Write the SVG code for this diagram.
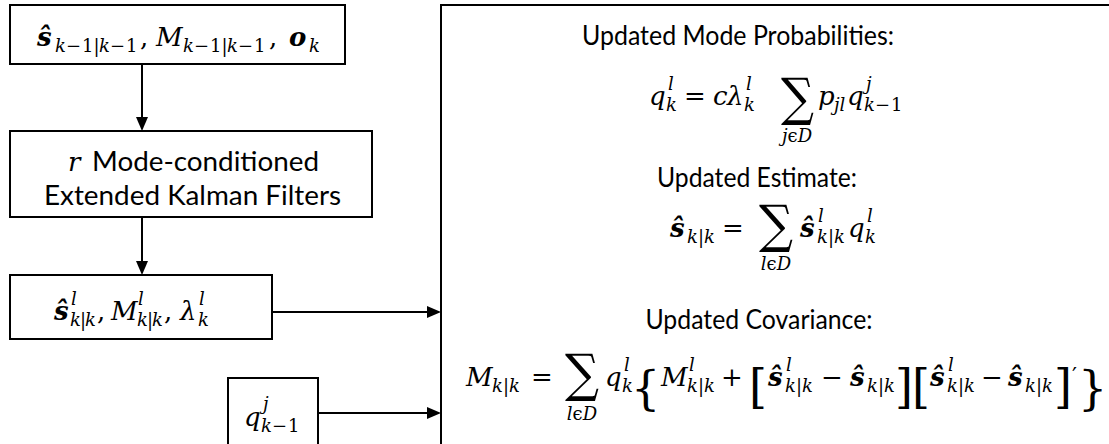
<svg xmlns="http://www.w3.org/2000/svg" width="1109" height="444" viewBox="0 0 1109 444">
<style>
.box{fill:#fff;stroke:#000;stroke-width:2}
.cn{stroke:#000;stroke-width:2;fill:none}
.t{font-family:"Lato","Open Sans","Liberation Sans",sans-serif;font-size:26px;fill:#000}
.m{font-family:"DejaVu Serif","Liberation Serif",serif;font-style:italic;font-size:26px;fill:#000}
.b{font-weight:bold}
.s{font-size:18px}
.u{font-style:normal}
.lim{font-family:"DejaVu Serif","Liberation Serif",serif;font-style:italic;font-size:18px;fill:#000;text-anchor:middle}
.sum{font-family:"DejaVu Serif","Liberation Serif",serif;font-style:normal;font-size:52px;fill:#000}
.br{font-family:"DejaVu Serif","Liberation Serif",serif;font-style:normal;font-size:46px;fill:#000}
</style>
<defs>
<marker id="ah" markerWidth="14" markerHeight="12" refX="6" refY="6" orient="auto" markerUnits="userSpaceOnUse"><path d="M0,0 L14,6 L0,12 z" fill="#000"/></marker>
</defs>

<g id="connectors">
<line class="cn" x1="142" y1="64" x2="142" y2="123" marker-end="url(#ah)"/>
<line class="cn" x1="142" y1="217" x2="142" y2="267" marker-end="url(#ah)"/>
<line class="cn" x1="272" y1="312" x2="433" y2="312" marker-end="url(#ah)"/>
<line class="cn" x1="318" y1="413" x2="433" y2="413" marker-end="url(#ah)"/>
</g>

<g id="node-input">
<rect class="box" x="10" y="5" width="335" height="59"/>
<text class="m b" x="37" y="46">ŝ</text>
<text class="m s" y="52"><tspan x="55">k</tspan><tspan class="u" x="66">−</tspan><tspan class="u" x="82">1|</tspan><tspan x="99">k</tspan><tspan class="u" x="110">−</tspan><tspan class="u" x="126">1</tspan></text>
<text class="m u" x="140" y="46">,</text>
<text class="m" x="156" y="46">M</text>
<text class="m s" y="52"><tspan x="183">k</tspan><tspan class="u" x="194">−</tspan><tspan class="u" x="210">1|</tspan><tspan x="227">k</tspan><tspan class="u" x="238">−</tspan><tspan class="u" x="254">1</tspan></text>
<text class="m u" x="269" y="46">,</text>
<text class="m b" x="289" y="46">o</text>
<text class="m s" x="309" y="52">k</text>
</g>

<g id="node-filters">
<rect class="box" x="10" y="131" width="362" height="86"/>
<text class="m" x="68" y="171">r</text>
<text class="t" x="92" y="171" textLength="227" lengthAdjust="spacingAndGlyphs">Mode-conditioned</text>
<text class="t" x="44" y="205" textLength="297" lengthAdjust="spacingAndGlyphs">Extended Kalman Filters</text>
</g>

<g id="node-mode-outputs">
<rect class="box" x="10" y="275" width="262" height="64"/>
<text class="m b" x="54" y="320">ŝ</text>
<text class="m s" x="71" y="305">l</text>
<text class="m s" y="326"><tspan x="70">k</tspan><tspan class="u" x="80">|</tspan><tspan x="85">k</tspan></text>
<text class="m u" x="97" y="320">,</text>
<text class="m" x="111" y="320">M</text>
<text class="m s" x="138" y="305">l</text>
<text class="m s" y="326"><tspan x="137">k</tspan><tspan class="u" x="147">|</tspan><tspan x="152">k</tspan></text>
<text class="m u" x="164" y="320">,</text>
<text class="m" x="180" y="320">λ</text>
<text class="m s" x="199" y="305">l</text>
<text class="m s" x="198" y="326">k</text>
</g>

<g id="node-prev-prob">
<rect class="box" x="228" y="378" width="90" height="90"/>
<text class="m" x="244" y="426">q</text>
<text class="m s" x="263" y="410">j</text>
<text class="m s" y="432"><tspan x="261">k</tspan><tspan class="u" x="272">−</tspan><tspan class="u" x="288">1</tspan></text>
</g>

<g id="node-update">
<rect class="box" x="441" y="5" width="720" height="500"/>
<text class="t" x="738" y="45" text-anchor="middle" textLength="312" lengthAdjust="spacingAndGlyphs">Updated Mode Probabilities:</text>
<!-- F1 -->
<text class="m" x="649" y="105">q</text>
<text class="m s" x="668" y="90">l</text>
<text class="m s" x="666" y="111">k</text>
<text class="m u" x="684" y="105">=</text>
<text class="m" x="713" y="105">c</text>
<text class="m" x="727" y="105">λ</text>
<text class="m s" x="746" y="90">l</text>
<text class="m s" x="744" y="111">k</text>
<text class="sum" x="781" y="115" textLength="33" lengthAdjust="spacingAndGlyphs">∑</text>
<text class="lim" x="797" y="142">j<tspan class="u">ϵ</tspan>D</text>
<text class="m" x="818" y="105">p</text>
<text class="m s" x="834" y="111">jl</text>
<text class="m" x="847" y="105">q</text>
<text class="m s" x="866" y="90">j</text>
<text class="m s" y="111"><tspan x="864">k</tspan><tspan class="u" x="875">−</tspan><tspan class="u" x="891">1</tspan></text>

<text class="t" x="757" y="187" text-anchor="middle" textLength="200" lengthAdjust="spacingAndGlyphs">Updated Estimate:</text>
<!-- F2 -->
<text class="m b" x="670" y="237">ŝ</text>
<text class="m s" y="243"><tspan x="687">k</tspan><tspan class="u" x="698">|</tspan><tspan x="704">k</tspan></text>
<text class="m u" x="722" y="237">=</text>
<text class="sum" x="759" y="242" textLength="34" lengthAdjust="spacingAndGlyphs">∑</text>
<text class="lim" x="776" y="270">l<tspan class="u">ϵ</tspan>D</text>
<text class="m b" x="800" y="237">ŝ</text>
<text class="m s" x="818" y="222">l</text>
<text class="m s" y="243"><tspan x="817">k</tspan><tspan class="u" x="828">|</tspan><tspan x="834">k</tspan></text>
<text class="m" x="848" y="237">q</text>
<text class="m s" x="867" y="222">l</text>
<text class="m s" x="865" y="243">k</text>

<text class="t" x="759" y="329" text-anchor="middle" textLength="227" lengthAdjust="spacingAndGlyphs">Updated Covariance:</text>
<!-- F3 -->
<text class="m" x="466" y="386">M</text>
<text class="m s" y="392"><tspan x="492">k</tspan><tspan class="u" x="503">|</tspan><tspan x="509">k</tspan></text>
<text class="m u" x="531" y="386">=</text>
<text class="sum" x="565" y="391" textLength="34" lengthAdjust="spacingAndGlyphs">∑</text>
<text class="lim" x="582" y="420">l<tspan class="u">ϵ</tspan>D</text>
<text class="m" x="605" y="386">q</text>
<text class="m s" x="624" y="371">l</text>
<text class="m s" x="622" y="392">k</text>
<text class="br" x="631" y="404">{</text>
<text class="m" x="661" y="386">M</text>
<text class="m s" x="689" y="371">l</text>
<text class="m s" y="392"><tspan x="687">k</tspan><tspan class="u" x="698">|</tspan><tspan x="704">k</tspan></text>
<text class="m u" x="721" y="386">+</text>
<text class="br" x="749" y="403">[</text>
<text class="m b" x="768" y="386">ŝ</text>
<text class="m s" x="786" y="371">l</text>
<text class="m s" y="392"><tspan x="785">k</tspan><tspan class="u" x="796">|</tspan><tspan x="802">k</tspan></text>
<text class="m u" x="821" y="386">−</text>
<text class="m b" x="850" y="386">ŝ</text>
<text class="m s" y="392"><tspan x="867">k</tspan><tspan class="u" x="878">|</tspan><tspan x="884">k</tspan></text>
<text class="br" x="895" y="403">]</text>
<text class="br" x="912" y="403">[</text>
<text class="m b" x="930" y="386">ŝ</text>
<text class="m s" x="948" y="371">l</text>
<text class="m s" y="392"><tspan x="947">k</tspan><tspan class="u" x="958">|</tspan><tspan x="964">k</tspan></text>
<text class="m u" x="981" y="386">−</text>
<text class="m b" x="1008" y="386">ŝ</text>
<text class="m s" y="392"><tspan x="1025">k</tspan><tspan class="u" x="1036">|</tspan><tspan x="1042">k</tspan></text>
<text class="br" x="1054" y="403">]<tspan font-size="22" dy="-20">′</tspan></text>
<text class="br" x="1078" y="404">}</text>
</g>
</svg>
